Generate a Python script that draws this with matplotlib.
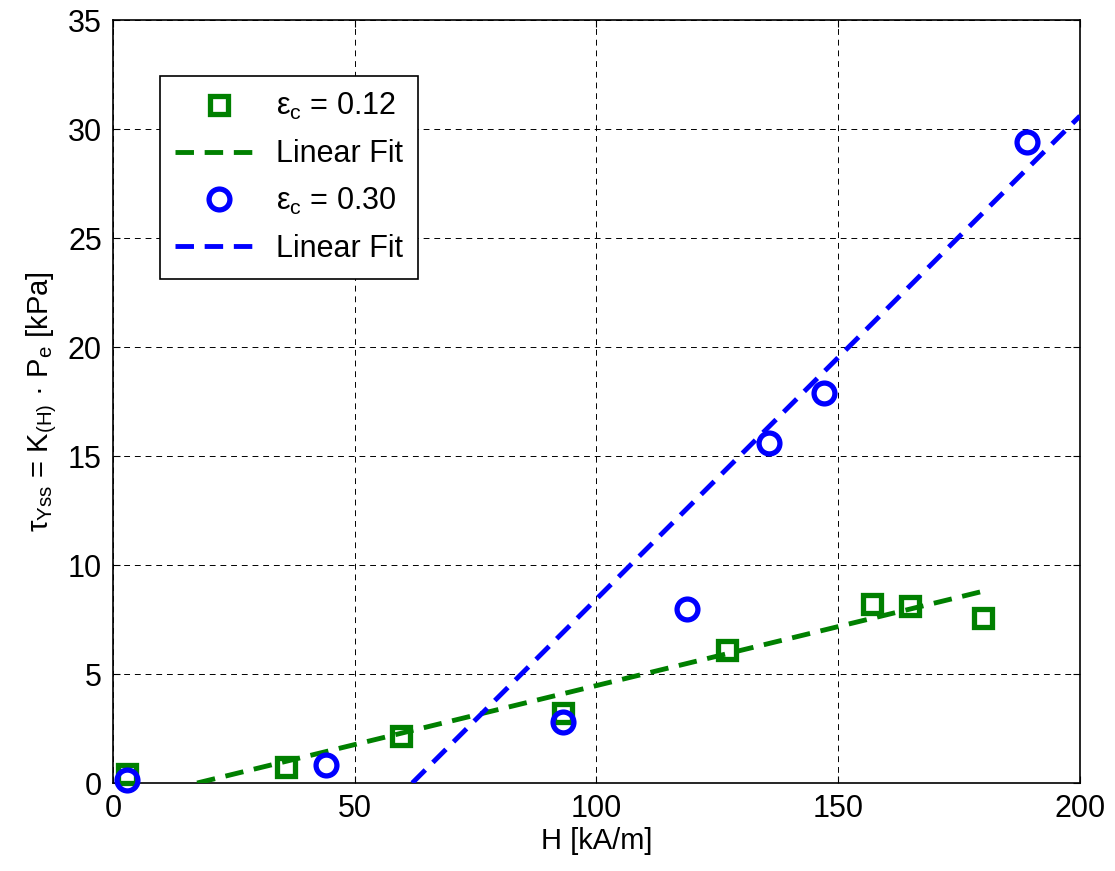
import matplotlib
matplotlib.use('Agg')
from matplotlib import pyplot as plt

plt.rcParams['font.family'] = ['Liberation Sans', 'DejaVu Sans']
plt.rcParams['mathtext.fontset'] = 'custom'
plt.rcParams['mathtext.rm'] = 'Liberation Sans'
plt.rcParams['mathtext.it'] = 'Liberation Sans'

# eps_c = 0.12 measurements
h_012 = [3, 35.8, 59.6, 93, 126.9, 157, 164.8, 179.9]
tau_012 = [0.42, 0.73, 2.16, 3.2, 6.1, 8.2, 8.1, 7.55]
# eps_c = 0.30 measurements
h_030 = [3, 44.1, 93, 118.8, 135.6, 147, 189]
tau_030 = [0.12, 0.83, 2.8, 8.0, 15.6, 17.9, 29.4]
# linear fit end points
fit_h_012 = [17.4, 180]
fit_tau_012 = [0.0, 8.8]
fit_h_030 = [61.9, 200]
fit_tau_030 = [0.0, 30.6]

green = '#008000'
blue = '#0000ff'

fig = plt.figure(figsize=(11.15, 8.71), dpi=100)
ax = fig.add_axes([0.1013, 0.101, 0.8673, 0.876])

ax.plot(h_012, tau_012, linestyle='none', marker='s', markersize=13,
        markerfacecolor='none', markeredgecolor=green, markeredgewidth=3.8,
        label=r'$\mathregular{ε_c}$ = 0.12', zorder=4, clip_on=False)
ax.plot(fit_h_012, fit_tau_012, color=green, linewidth=3.5, dashes=(3.8, 2.2),
        label='Linear Fit', zorder=3)
ax.plot(h_030, tau_030, linestyle='none', marker='o', markersize=15,
        markerfacecolor='none', markeredgecolor=blue, markeredgewidth=3.8,
        label=r'$\mathregular{ε_c}$ = 0.30', zorder=5, clip_on=False)
ax.plot(fit_h_030, fit_tau_030, color=blue, linewidth=3.5, dashes=(3.8, 2.2),
        label='Linear Fit', zorder=3)

ax.set_xlim(0, 200)
ax.set_ylim(0, 35)
ax.set_xticks([0, 50, 100, 150, 200])
ax.set_yticks([0, 5, 10, 15, 20, 25, 30, 35])
ax.tick_params(direction='in', length=5, width=0.8, labelsize=22,
               top=True, right=True, pad=8)
ax.grid(True, color='black', linestyle=(0, (6, 5)), linewidth=0.7)
ax.set_axisbelow(True)
for s in ax.spines.values():
    s.set_linewidth(1.2)

ax.set_xlabel('H [kA/m]', fontsize=21, labelpad=2)
ax.set_ylabel(r'$\mathregular{τ_{Yss}}$ = K$_{\mathregular{(H)}}$ · P$_{\mathregular{e}}$ [kPa]',
              fontsize=21, labelpad=6)

leg = ax.legend(loc='upper left', bbox_to_anchor=(0.0486, 0.9266),
                fontsize=22, handlelength=2.85, labelspacing=0.55,
                borderpad=0.5, handletextpad=0.45, fancybox=False,
                framealpha=1, edgecolor='black', borderaxespad=0)
leg.get_frame().set_linewidth(1.2)

fig.savefig('out.png', dpi=100)
